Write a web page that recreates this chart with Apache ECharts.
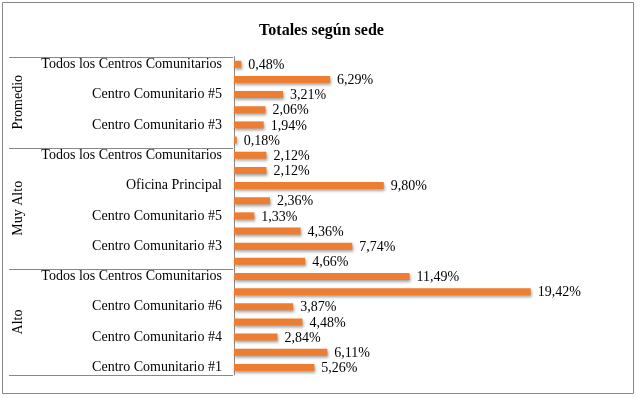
<!DOCTYPE html>
<html>
<head>
<meta charset="utf-8">
<script src="https://cdn.jsdelivr.net/npm/echarts@6/dist/echarts.min.js"></script>
<style>
  html, body { margin: 0; padding: 0; background: #fff; }
  #chart { width: 643px; height: 398px; }
</style>
</head>
<body>
<div id="chart"></div>
<script>
// ---- Data (top to bottom within each group) ----
const groupNames = ['Promedio', 'Muy Alto', 'Alto'];

const promedioCats = ['Todos los Centros Comunitarios', 'Oficina Principal', 'Centro Comunitario #5', 'Centro Comunitario #4', 'Centro Comunitario #3', 'Centro Comunitario #1'];
const promedioVals = [0.48, 6.29, 3.21, 2.06, 1.94, 0.18];

const muyAltoCats = ['Todos los Centros Comunitarios', 'Otros', 'Oficina Principal', 'Centro Comunitario #6', 'Centro Comunitario #5', 'Centro Comunitario #4', 'Centro Comunitario #3', 'Centro Comunitario #1'];
const muyAltoVals = [2.12, 2.12, 9.80, 2.36, 1.33, 4.36, 7.74, 4.66];

const altoCats = ['Todos los Centros Comunitarios', 'Oficina Principal', 'Centro Comunitario #6', 'Centro Comunitario #5', 'Centro Comunitario #4', 'Centro Comunitario #3', 'Centro Comunitario #1'];
const altoVals = [11.49, 19.42, 3.87, 4.48, 2.84, 6.11, 5.26];

const title = 'Totales según sede';

// ---- Build combined axis data ----
const groupCats = [promedioCats, muyAltoCats, altoCats];
const groupVals = [promedioVals, muyAltoVals, altoVals];
const categories = [];
const values = [];
const groupStarts = [];
groupCats.forEach((cats, g) => {
  groupStarts.push(categories.length);
  cats.forEach((c, i) => {
    categories.push(groupNames[g] + '|' + c);
    values.push(groupVals[g][i]);
  });
});

const FONT = '"Liberation Serif", "Times New Roman", serif';
const chart = echarts.init(document.getElementById('chart'), null, { renderer: 'canvas' });

chart.setOption({
  animation: false,
  backgroundColor: '#fff',
  title: {
    text: title,
    left: 'center',
    top: 18,
    textStyle: { fontFamily: FONT, fontSize: 16, fontWeight: 'bold', color: '#000' }
  },
  grid: { left: 234, top: 56.7, width: 382, height: 318.3, containLabel: false },
  xAxis: {
    type: 'value', min: 0, max: 25, show: false
  },
  yAxis: {
    type: 'category',
    inverse: true,
    data: categories,
    axisLine: { show: true, lineStyle: { color: '#888', width: 1 } },
    axisTick: { show: false },
    splitLine: { show: false },
    axisLabel: {
      interval: 1,
      margin: 12,
      fontFamily: FONT,
      fontSize: 14,
      color: '#000',
      formatter: v => v.split('|')[1]
    }
  },
  series: [{
    type: 'bar',
    data: values,
    barWidth: 7,
    itemStyle: {
      color: '#ED7D31',
      shadowColor: 'rgba(0,0,0,0.35)',
      shadowBlur: 3,
      shadowOffsetX: 1,
      shadowOffsetY: 2
    },
    label: {
      show: true,
      position: 'right',
      distance: 7,
      offset: [0, 1],
      fontFamily: FONT,
      fontSize: 14,
      color: '#000',
      formatter: p => p.value.toFixed(2).replace('.', ',') + '%'
    }
  }]
});

// ---- Group separators and labels, placed through the axis scale ----
const yc = i => chart.convertToPixel({ yAxisIndex: 0 }, i);
const half = (yc(1) - yc(0)) / 2;
const axisX = chart.convertToPixel({ xAxisIndex: 0 }, 0) - 1;
const bounds = groupStarts.concat([categories.length]).map(i => yc(i) - half);
const graphics = [];
graphics.push({
  type: 'rect', silent: true,
  shape: { x: 2.5, y: 2.5, width: 631, height: 391 },
  style: { fill: 'none', stroke: '#888', lineWidth: 1 }
});
bounds.forEach(y => {
  const yy = Math.round(y) + 0.5;
  graphics.push({
    type: 'line', silent: true,
    shape: { x1: 9, y1: yy, x2: axisX, y2: yy },
    style: { stroke: '#888', lineWidth: 1 }
  });
});
groupNames.forEach((name, g) => {
  const mid = (bounds[g] + bounds[g + 1]) / 2;
  graphics.push({
    type: 'text', silent: true,
    x: 18, y: mid, rotation: Math.PI / 2,
    style: {
      text: name, fill: '#000',
      font: '14px ' + FONT,
      align: 'center', verticalAlign: 'middle'
    }
  });
});
chart.setOption({ graphic: graphics });
</script>
</body>
</html>
